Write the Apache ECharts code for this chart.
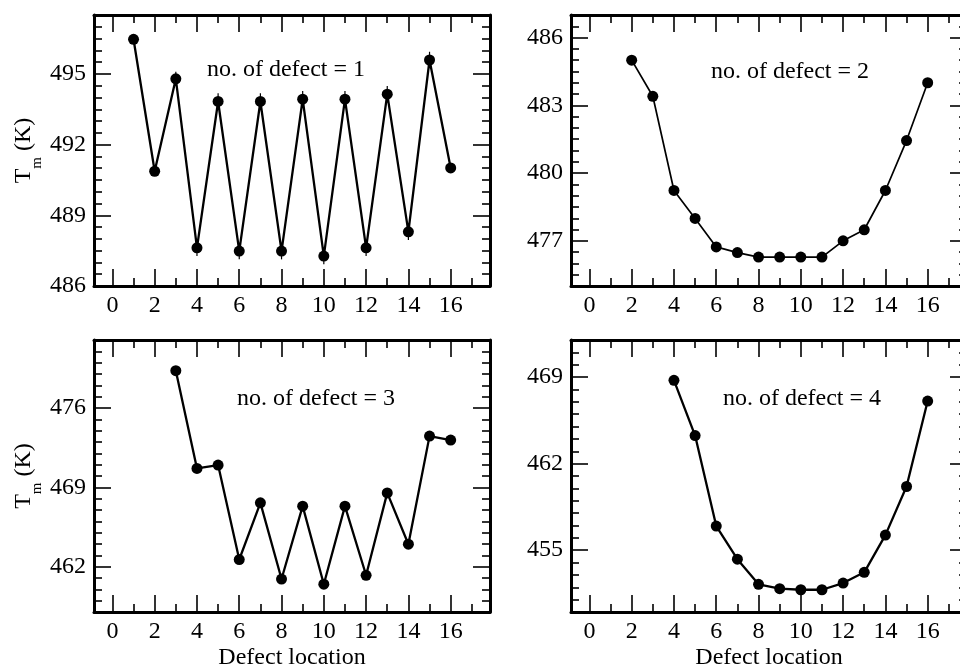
<!DOCTYPE html>
<html>
<head>
<meta charset="utf-8">
<script src="https://cdn.jsdelivr.net/npm/echarts@6/dist/echarts.min.js"></script>
<style>
  html, body { margin: 0; padding: 0; background: #fff; }
  #chart { width: 960px; height: 664px; }
</style>
</head>
<body>
<div id="chart"></div>
<script>
// Melting temperature vs. defect location, one panel per number of defects
const loc1 = [1, 2, 3, 4, 5, 6, 7, 8, 9, 10, 11, 12, 13, 14, 15, 16];
const tm1  = [496.47, 490.87, 494.79, 487.62, 493.83, 487.48, 493.83, 487.48,
              493.93, 487.27, 493.93, 487.62, 494.14, 488.30, 495.59, 491.01];
const err1 = [0, 0, 0.3, 0.35, 0.35, 0.35, 0.35, 0.35,
              0.35, 0.35, 0.35, 0.35, 0.35, 0.35, 0.35, 0];

const loc2 = [2, 3, 4, 5, 6, 7, 8, 9, 10, 11, 12, 13, 14, 15, 16];
const tm2  = [485.0, 483.4, 479.23, 477.99, 476.73, 476.48, 476.28, 476.28,
              476.28, 476.28, 477.0, 477.49, 479.23, 481.44, 484.0];

const loc3 = [3, 4, 5, 6, 7, 8, 9, 10, 11, 12, 13, 14, 15, 16];
const tm3  = [479.29, 470.67, 470.96, 462.63, 467.63, 460.91, 467.34, 460.45,
              467.34, 461.24, 468.51, 463.98, 473.52, 473.17];

const loc4 = [4, 5, 6, 7, 8, 9, 10, 11, 12, 13, 14, 15, 16];
const tm4  = [468.74, 464.27, 456.95, 454.27, 452.24, 451.89, 451.8, 451.8,
              452.34, 453.21, 456.22, 460.15, 467.06];

const panelTitles = ['no. of defect = 1', 'no. of defect = 2', 'no. of defect = 3', 'no. of defect = 4'];

// tick labels
const xMajor = [0, 2, 4, 6, 8, 10, 12, 14, 16];
const yMajor1 = [486, 489, 492, 495];
const yMajor2 = [477, 480, 483, 486];
const yMajor3 = [462, 469, 476];
const yMajor4 = [455, 462, 469];

const FONT = 'Liberation Serif, Times New Roman, serif';

// axis ranges and minor tick steps per panel
const xRange = [-0.87, 17.86];
const yRanges = [[486, 497.5], [475, 487], [458, 482], [450, 472]];
const yMinorStep = [0.5, 0.5, 1, 1];
const yMajors = [yMajor1, yMajor2, yMajor3, yMajor4];

function stepTicks(min, max, step, exclude) {
  const out = [];
  const start = Math.ceil(min / step) * step;
  for (let v = start; v <= max + 1e-9; v += step) {
    const r = Math.round(v * 1000) / 1000;
    if (!exclude.some(e => Math.abs(e - r) < 1e-6)) out.push(r);
  }
  return out;
}

const grids = [
  { left: 94, top: 15, width: 396, height: 271, outerBoundsMode: 'none', containLabel: false },
  { left: 571, top: 15, width: 396, height: 271, outerBoundsMode: 'none', containLabel: false },
  { left: 94, top: 340, width: 396, height: 272, outerBoundsMode: 'none', containLabel: false },
  { left: 571, top: 340, width: 396, height: 272, outerBoundsMode: 'none', containLabel: false }
];

const xAxes = [];
const yAxes = [];
const series = [];
const titles = [];

function makeAxis(gridIndex, position, min, max, ticks, long, withLine, extra) {
  const ax = {
    type: 'value',
    gridIndex: gridIndex,
    position: position,
    min: min,
    max: max,
    splitLine: { show: false },
    axisLine: { show: withLine, onZero: false, lineStyle: { color: '#000', width: 3 } },
    axisTick: {
      show: true, inside: true, length: long ? 17 : 8,
      customValues: ticks,
      lineStyle: { color: '#000', width: 1.6 }
    },
    axisLabel: { show: false }
  };
  return Object.assign(ax, extra || {});
}

const locs = [loc1, loc2, loc3, loc4];
const tms = [tm1, tm2, tm3, tm4];
const titleCenters = [[286, 71], [790, 73], [316, 400], [802, 400]];

for (let g = 0; g < 4; g++) {
  const xMinor = stepTicks(xRange[0], xRange[1], 1, xMajor);
  const [ymin, ymax] = yRanges[g];
  const yMinor = stepTicks(ymin, ymax, yMinorStep[g], yMajors[g]);
  const bottomRow = g >= 2;
  const leftCol = g % 2 === 0;

  const xBase = xAxes.length;
  xAxes.push(makeAxis(g, 'bottom', xRange[0], xRange[1], xMajor, true, true,
    Object.assign({
      axisLabel: { show: true, customValues: xMajor, color: '#000', fontFamily: FONT, fontSize: 24, margin: 8 }
    }, bottomRow ? {
      name: 'Defect location', nameLocation: 'middle', nameGap: 34,
      nameTextStyle: { color: '#000', fontFamily: FONT, fontSize: 24 }
    } : {})));
  xAxes.push(makeAxis(g, 'bottom', xRange[0], xRange[1], xMinor, false, false));
  xAxes.push(makeAxis(g, 'top', xRange[0], xRange[1], xMajor, true, true));
  xAxes.push(makeAxis(g, 'top', xRange[0], xRange[1], xMinor, false, false));

  const yBase = yAxes.length;
  yAxes.push(makeAxis(g, 'left', ymin, ymax, yMajors[g], true, true,
    Object.assign({
      axisLabel: { show: true, customValues: yMajors[g], color: '#000', fontFamily: FONT, fontSize: 24, margin: 8 }
    }, leftCol ? {
      name: '{a|T}{b|m}{a| (K)}', nameLocation: 'middle', nameGap: 58,
      nameMoveOverlap: false,
      nameTextStyle: {
        color: '#000', fontFamily: FONT,
        rich: {
          a: { fontFamily: FONT, fontSize: 24, lineHeight: 24, color: '#000' },
          b: { fontFamily: FONT, fontSize: 15, lineHeight: 15, padding: [26, 0, 0, 0], color: '#000' }
        }
      }
    } : {})));
  yAxes.push(makeAxis(g, 'left', ymin, ymax, yMinor, false, false));
  yAxes.push(makeAxis(g, 'right', ymin, ymax, yMajors[g], true, true));
  yAxes.push(makeAxis(g, 'right', ymin, ymax, yMinor, false, false));

  const pts = locs[g].map((x, i) => [x, tms[g][i]]);
  series.push({
    type: 'line',
    xAxisIndex: xBase,
    yAxisIndex: yBase,
    data: pts,
    symbol: 'circle',
    symbolSize: 11,
    showSymbol: true,
    clip: false,
    animation: false,
    itemStyle: { color: '#000' },
    lineStyle: { color: '#000', width: g === 1 ? 1.7 : 2.3 },
    z: 3
  });

  if (g === 0) {
    // small vertical error bars on the single-defect curve
    series.push({
      type: 'custom',
      xAxisIndex: xBase,
      yAxisIndex: yBase,
      data: loc1.map((x, i) => [x, tm1[i], err1[i]]),
      animation: false,
      z: 2,
      renderItem: function (params, api) {
        const x = api.value(0), y = api.value(1), e = api.value(2);
        if (!e) return null;
        const p1 = api.coord([x, y - e]);
        const p2 = api.coord([x, y + e]);
        return {
          type: 'line',
          shape: { x1: p1[0], y1: p1[1], x2: p2[0], y2: p2[1] },
          style: { stroke: '#000', lineWidth: 1.2 }
        };
      }
    });
  }

  titles.push({
    text: panelTitles[g],
    left: titleCenters[g][0],
    top: titleCenters[g][1] - 13,
    textAlign: 'center',
    padding: 0,
    textStyle: { color: '#000', fontFamily: FONT, fontSize: 24, fontWeight: 'normal' }
  });
}

const chart = echarts.init(document.getElementById('chart'), null, { renderer: 'canvas' });
chart.setOption({
  backgroundColor: '#fff',
  animation: false,
  title: titles,
  grid: grids,
  xAxis: xAxes,
  yAxis: yAxes,
  series: series
});
</script>
</body>
</html>
